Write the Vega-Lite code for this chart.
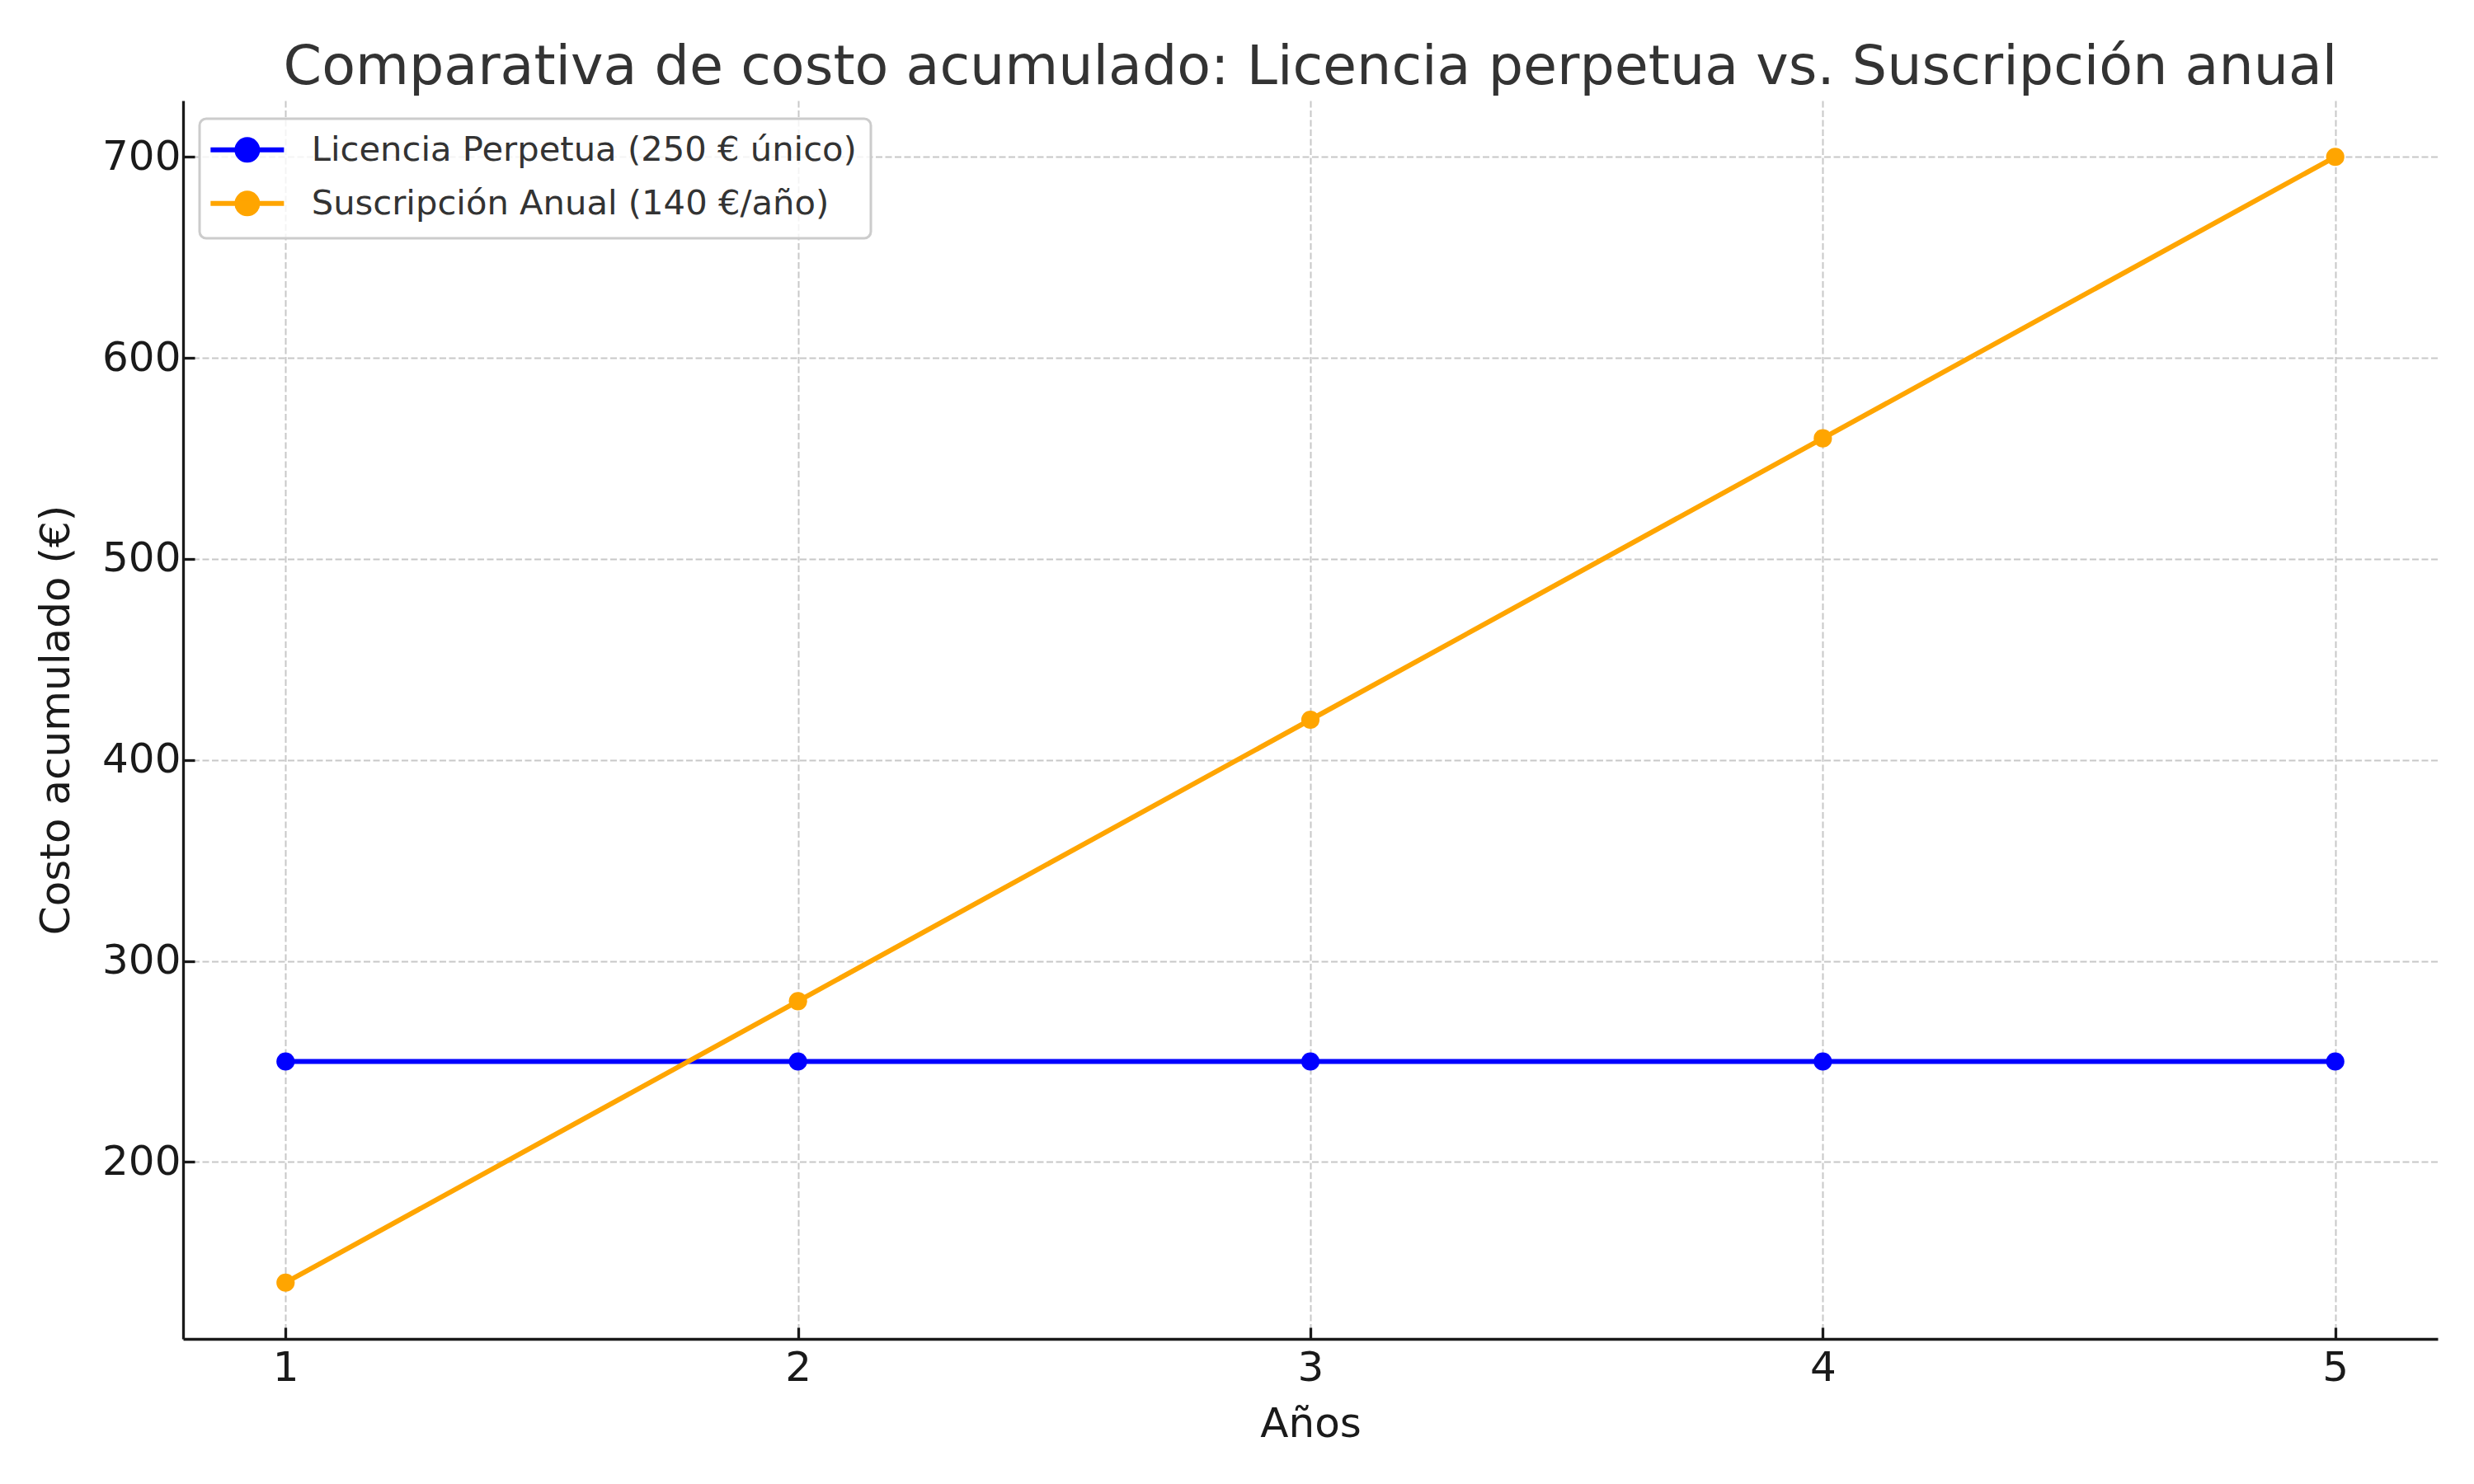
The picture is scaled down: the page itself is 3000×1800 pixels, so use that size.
{
  "$schema": "https://vega.github.io/schema/vega-lite/v6.json",
  "width": 2734,
  "height": 1502,
  "autosize": {"type": "none"},
  "padding": {"left": 222, "top": 122, "right": 44, "bottom": 176},
  "background": "white",
  "title": {
    "text": "Comparativa de costo acumulado: Licencia perpetua vs. Suscripción anual",
    "font": "DejaVu Sans",
    "fontSize": 66.7,
    "fontWeight": "normal",
    "color": "#333333",
    "anchor": "middle",
    "frame": "group",
    "baseline": "alphabetic",
    "offset": 21,
    "dy": 68
  },
  "config": {
    "view": {"stroke": null},
    "font": "DejaVu Sans",
    "legend": {"strokeWidth": 3},
    "axis": {
      "labelFont": "DejaVu Sans",
      "titleFont": "DejaVu Sans",
      "labelFontSize": 50,
      "titleFontSize": 50,
      "titleFontWeight": "normal",
      "labelColor": "#1a1a1a",
      "titleColor": "#1a1a1a",
      "domainColor": "#1a1a1a",
      "domainWidth": 3.3,
      "tickColor": "#1a1a1a",
      "tickWidth": 3.3,
      "tickSize": -14,
      "grid": true,
      "gridColor": "#c8c8c8",
      "gridWidth": 2,
      "gridDash": [8, 3.5]
    }
  },
  "data": {
    "values": [
      {"anio": 1, "costo": 250, "serie": "Licencia Perpetua (250 € único)"},
      {"anio": 2, "costo": 250, "serie": "Licencia Perpetua (250 € único)"},
      {"anio": 3, "costo": 250, "serie": "Licencia Perpetua (250 € único)"},
      {"anio": 4, "costo": 250, "serie": "Licencia Perpetua (250 € único)"},
      {"anio": 5, "costo": 250, "serie": "Licencia Perpetua (250 € único)"},
      {"anio": 1, "costo": 140, "serie": "Suscripción Anual (140 €/año)"},
      {"anio": 2, "costo": 280, "serie": "Suscripción Anual (140 €/año)"},
      {"anio": 3, "costo": 420, "serie": "Suscripción Anual (140 €/año)"},
      {"anio": 4, "costo": 560, "serie": "Suscripción Anual (140 €/año)"},
      {"anio": 5, "costo": 700, "serie": "Suscripción Anual (140 €/año)"}
    ]
  },
  "encoding": {
    "x": {
      "field": "anio",
      "type": "quantitative",
      "scale": {"domain": [0.8, 5.2], "nice": false, "zero": false},
      "axis": {
        "title": "Años",
        "values": [1, 2, 3, 4, 5],
        "format": "d",
        "labelAngle": 0,
        "labelPadding": 24,
        "titlePadding": 18
      }
    },
    "y": {
      "field": "costo",
      "type": "quantitative",
      "scale": {"domain": [112, 728], "nice": false, "zero": false},
      "axis": {
        "title": "Costo acumulado (€)",
        "values": [200, 300, 400, 500, 600, 700],
        "format": "d",
        "labelPadding": 17,
        "titlePadding": 30
      }
    },
    "color": {
      "field": "serie",
      "type": "nominal",
      "scale": {
        "domain": ["Licencia Perpetua (250 € único)", "Suscripción Anual (140 €/año)"],
        "range": ["#0000ff", "#ffa500"]
      },
      "legend": {
        "title": null,
        "orient": "none",
        "legendX": 20,
        "legendY": 22,
        "labelFont": "DejaVu Sans",
        "labelFontSize": 41.7,
        "labelColor": "#333333",
        "labelLimit": 0,
        "labelOffset": 77,
        "symbolType": "M-1.96,0L5.16,0M0.6,0A1,1 0 1,0 2.6,0A1,1 0 1,0 0.6,0Z",
        "symbolSize": 625,
        "symbolStrokeWidth": 6,
        "rowPadding": 15,
        "padding": 17,
        "strokeColor": "#cccccc",
        "cornerRadius": 8,
        "fillColor": "rgba(255,255,255,0.8)",
        "encode": {
          "symbols": {
            "update": {
              "fill": {"signal": "scale('color', datum.value)"},
              "stroke": {"signal": "scale('color', datum.value)"},
              "opacity": {"value": 1}
            }
          }
        }
      }
    }
  },
  "layer": [
    {"mark": {"type": "line", "strokeWidth": 6}},
    {"mark": {"type": "point", "filled": true, "size": 491, "opacity": 1, "shape": "circle"}}
  ]
}
